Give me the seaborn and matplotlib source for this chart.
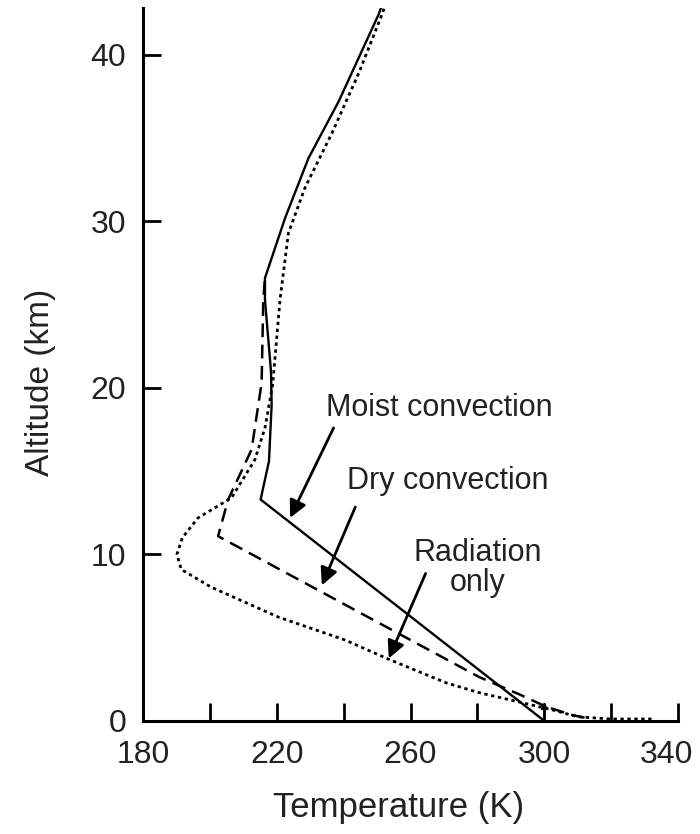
import matplotlib
matplotlib.use("Agg")
import matplotlib.pyplot as plt
import matplotlib.transforms as mtransforms
import seaborn as sns
import pandas as pd

# ---- data ----
moist_T = [300.0, 215.2, 217.7, 218.5, 218.3, 216.5, 216.5, 222.5, 229.5, 238.5, 250.5, 251.8]
moist_z = [0.0, 13.3, 15.6, 19.0, 21.0, 25.3, 26.6, 30.2, 33.8, 37.2, 42.45, 43.2]

dry_T = [312.0, 308.5, 300.6, 292.5, 280.5, 202.5, 205.5, 212.5, 215.5, 216.0, 216.5]
dry_z = [0.2, 0.35, 0.85, 1.6, 2.64, 11.1, 13.3, 16.3, 20.3, 25.3, 26.6]

rad_T = [332.0, 320.0, 310.0, 302.5, 292.5, 280.5, 270.5, 253.0, 240.5, 220.5, 200.4,
         191.5, 190.2, 191.8, 196.5, 206.5, 213.5, 216.5, 218.8, 221.0, 223.5, 228.5,
         236.5, 244.5, 251.5, 252.8]
rad_z = [0.12, 0.12, 0.25, 0.66, 1.14, 1.7, 2.3, 3.75, 4.86, 6.24, 8.04,
         9.1, 10.0, 11.0, 12.2, 13.4, 15.7, 17.6, 20.2, 25.3, 29.3, 32.05,
         35.3, 38.9, 42.45, 43.2]

x_ticks = [180, 200, 220, 240, 260, 280, 300, 320, 340]
x_labels = ["180", "", "220", "", "260", "", "300", "", "340"]
y_ticks = [0, 10, 20, 30, 40]
y_labels = ["0", "10", "20", "30", "40"]

labels = ["Moist convection", "Dry convection", "Radiation\nonly"]
label_pos = [(268.5, 18.8), (271.0, 14.4), (280.0, 9.2)]
arrow_tail = [(237.0, 17.6), (243.5, 12.85), (264.5, 8.86)]
arrow_head = [(224.0, 12.2), (233.5, 8.15), (253.5, 3.76)]

sns.set_theme(style="ticks")
plt.rcParams["font.family"] = ["Liberation Sans", "DejaVu Sans"]

fig = plt.figure(figsize=(7.0, 8.34), dpi=100)
ax = fig.add_axes([0.204, 0.1355, 0.765, 0.8545])

df_m = pd.DataFrame({"T": moist_T, "z": moist_z})
df_d = pd.DataFrame({"T": dry_T, "z": dry_z})
df_r = pd.DataFrame({"T": rad_T, "z": rad_z})

sns.lineplot(data=df_m, x="T", y="z", sort=False, estimator=None, ax=ax,
             color="black", lw=1.7, linestyle="-")
sns.lineplot(data=df_d, x="T", y="z", sort=False, estimator=None, ax=ax,
             color="black", lw=1.8, linestyle=(0, (5.5, 3.0)))
sns.lineplot(data=df_r, x="T", y="z", sort=False, estimator=None, ax=ax,
             color="black", lw=2.0, linestyle=(0, (1.2, 1.3)))

ax.set_xlim(180, 340)
ax.set_ylim(0, 42.8)
ax.set_xticks(x_ticks)
ax.set_xticklabels(x_labels)
ax.set_yticks(y_ticks)
ax.set_yticklabels(y_labels)

for s in ["top", "right"]:
    ax.spines[s].set_visible(False)
for s in ["left", "bottom"]:
    ax.spines[s].set_linewidth(2.2)
    ax.spines[s].set_color("black")

ax.tick_params(axis="both", direction="in", length=13, width=2.0, color="black",
               labelsize=23, labelcolor="#222222")
ax.tick_params(axis="x", pad=13.5)
ax.tick_params(axis="y", pad=12)

# shift the last x label left so it stays inside the figure (as in the reference)
last = ax.get_xticklabels()[-1]
last.set_transform(last.get_transform() +
                   mtransforms.ScaledTranslation(-12 / 100, 0, fig.dpi_scale_trans))

ax.set_xlabel("Temperature (K)", fontsize=25, color="#222222")
ax.xaxis.set_label_coords(0.478, -0.098)
ax.set_ylabel("Altitude (km)", fontsize=24, color="#222222")
ax.yaxis.set_label_coords(-0.162, 0.475)

for txt, pos, tail, head in zip(labels, label_pos, arrow_tail, arrow_head):
    ax.text(pos[0], pos[1], txt, fontsize=22, color="#222222",
            ha="center", va="center", linespacing=1.0)
    ax.annotate("", xy=head, xytext=tail,
                arrowprops=dict(arrowstyle="-|>", color="black", lw=2.0,
                                mutation_scale=26, shrinkA=0, shrinkB=0))

ax.annotate("", xy=(300, 1.15), xytext=(300, 0.0),
            arrowprops=dict(arrowstyle="-|>", color="black", lw=1.2,
                            mutation_scale=10, shrinkA=0, shrinkB=0))

fig.savefig("out.png", dpi=100, facecolor="white")
